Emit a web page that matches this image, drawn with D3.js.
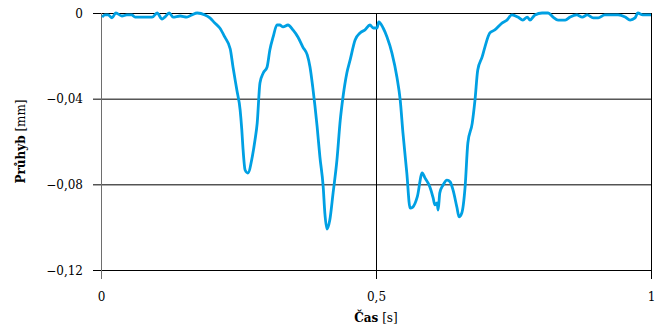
<!DOCTYPE html>
<html>
<head>
<meta charset="utf-8">
<script src="https://cdn.jsdelivr.net/npm/d3@7"></script>
<style>
  body { margin: 0; background: #fff; }
  svg text { font-family: "DejaVu Serif", serif; font-size: 12px; fill: #000; }
</style>
</head>
<body>
<div id="chart"></div>
<script>
// time [s]
const cas = [0.002, 0.007, 0.013, 0.020, 0.027, 0.038, 0.047, 0.056, 0.062, 0.071,
  0.084, 0.093, 0.102, 0.111, 0.116, 0.124, 0.131, 0.144, 0.156, 0.165,
  0.175, 0.189, 0.198, 0.207, 0.216, 0.225, 0.235, 0.240, 0.247, 0.253,
  0.256, 0.258, 0.262, 0.267, 0.275, 0.280, 0.284, 0.289, 0.295, 0.302,
  0.307, 0.313, 0.320, 0.325, 0.331, 0.340, 0.349, 0.358, 0.367, 0.375,
  0.380, 0.385, 0.393, 0.398, 0.404, 0.407, 0.411, 0.416, 0.422, 0.429,
  0.435, 0.440, 0.447, 0.453, 0.462, 0.471, 0.480, 0.489, 0.495, 0.502,
  0.505, 0.513, 0.520, 0.529, 0.538, 0.544, 0.549, 0.556, 0.562, 0.567,
  0.575, 0.584, 0.589, 0.598, 0.604, 0.607, 0.611, 0.613, 0.616, 0.622,
  0.629, 0.635, 0.640, 0.647, 0.651, 0.656, 0.662, 0.667, 0.675, 0.680,
  0.685, 0.693, 0.698, 0.707, 0.716, 0.729, 0.738, 0.747, 0.758, 0.767,
  0.775, 0.780, 0.789, 0.802, 0.813, 0.822, 0.831, 0.844, 0.853, 0.865,
  0.875, 0.884, 0.895, 0.904, 0.916, 0.929, 0.940, 0.953, 0.962, 0.971,
  0.976, 0.985, 1.000]

// deflection [mm]
const pruhyb = [-0.0019, -0.0009, -0.0009, -0.0023, 0, -0.0014, -0.0009, -0.0009, -0.0019, -0.0019,
  -0.0019, -0.0019, 0, -0.0028, -0.0019, 0, -0.0019, -0.0014, -0.0019, -0.0009,
  0, -0.0009, -0.0023, -0.0047, -0.0070, -0.0112, -0.0168, -0.0252, -0.0360, -0.0453,
  -0.0546, -0.0626, -0.0733, -0.0747, -0.0672, -0.0593, -0.0514, -0.0327, -0.0280, -0.0252,
  -0.0173, -0.0112, -0.0056, -0.0056, -0.0065, -0.0056, -0.0079, -0.0112, -0.0159, -0.0196,
  -0.0252, -0.0346, -0.0532, -0.0672, -0.0812, -0.0934, -0.1009, -0.0967, -0.0840, -0.0686,
  -0.0500, -0.0392, -0.0280, -0.0219, -0.0126, -0.0093, -0.0079, -0.0056, -0.0070, -0.0070,
  -0.0042, -0.0070, -0.0112, -0.0187, -0.0299, -0.0406, -0.0560, -0.0747, -0.0911, -0.0906,
  -0.0859, -0.0747, -0.0770, -0.0812, -0.0864, -0.0896, -0.0887, -0.0920, -0.0840, -0.0803,
  -0.0780, -0.0789, -0.0826, -0.0906, -0.0952, -0.0934, -0.0812, -0.0607, -0.0514, -0.0406,
  -0.0266, -0.0205, -0.0159, -0.0093, -0.0079, -0.0047, -0.0033, -0.0009, -0.0019, -0.0033,
  -0.0019, -0.0033, -0.0009, 0, 0, -0.0019, -0.0033, -0.0033, -0.0019, -0.0009,
  -0.0019, -0.0009, -0.0023, -0.0023, -0.0009, -0.0009, -0.0009, -0.0019, -0.0033, -0.0023,
  0, -0.0009, -0.0009]

const xTicks = [0, 0.5, 1]
const yTicks = [0, -0.04, -0.08, -0.12]

const width = 660, height = 329
const margin = { top: 13, right: 9, bottom: 59, left: 101 }
const w = width - margin.left - margin.right
const h = height - margin.top - margin.bottom

const fmt = d => (d < 0 ? '\u2212' : '') + String(Math.abs(d)).replace('.', ',')

const svg = d3.select('#chart').append('svg')
  .attr('width', width)
  .attr('height', height)

const g = svg.append('g')
  .attr('transform', 'translate(' + margin.left + ',' + margin.top + ')')

const x = d3.scaleLinear().domain([0, 1]).range([0, w])
const y = d3.scaleLinear().domain([-0.12, 0]).range([h, 0])

// horizontal gridlines + y labels
const yAxis = g.append('g')
  .call(d3.axisLeft(y).tickValues(yTicks).tickFormat(fmt).tickSize(-(w + 8)).tickPadding(10))
yAxis.select('.domain').remove()
yAxis.selectAll('.tick line')
  .attr('x1', w)
  .attr('x2', -8)
  .attr('stroke', '#000')
yAxis.selectAll('.tick text').attr('x', -18).attr('dy', '0.35em')

// vertical lines + x labels
const xAxis = g.append('g')
  .call(d3.axisBottom(x).tickValues(xTicks).tickFormat(fmt).tickSize(0))
  .attr('transform', 'translate(0,' + h + ')')
xAxis.select('.domain').remove()
xAxis.selectAll('.tick line')
  .attr('y1', -h)
  .attr('y2', 9)
  .attr('stroke', (d) => d === 0 ? '#6e6e6e' : '#000')
xAxis.selectAll('.tick text').attr('y', 22)

// the curve
const line = d3.line()
  .x((d, i) => x(cas[i]))
  .y((d) => y(d))
  .curve(d3.curveMonotoneX)

g.append('path')
  .attr('d', line(pruhyb))
  .attr('fill', 'none')
  .attr('stroke', '#00a0e3')
  .attr('stroke-width', 2.8)
  .attr('stroke-linejoin', 'round')

// axis titles
const xt = svg.append('text')
  .attr('x', margin.left + x(0.5))
  .attr('y', 322)
  .attr('text-anchor', 'middle')
xt.append('tspan').attr('font-weight', 'bold').text('Čas')
xt.append('tspan').text(' [s]')

const yt = svg.append('text')
  .attr('transform', 'translate(25,' + (margin.top + h / 2) + ') rotate(-90)')
  .attr('text-anchor', 'middle')
yt.append('tspan').attr('font-weight', 'bold').text('Průhyb')
yt.append('tspan').text(' [mm]')
</script>
</body>
</html>
